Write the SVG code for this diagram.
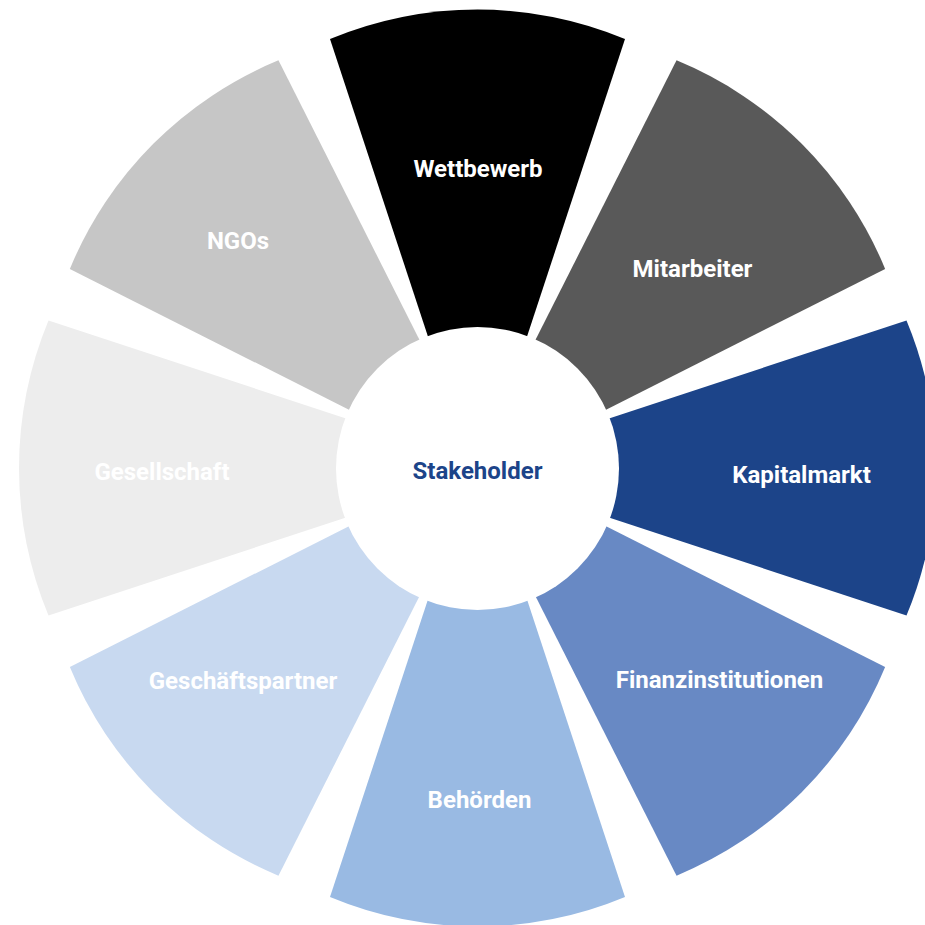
<svg xmlns="http://www.w3.org/2000/svg" xmlns:xlink="http://www.w3.org/1999/xlink" width="925" height="925" viewBox="0 0 925 925">
  <defs>
    <path id="seg" d="M -19 0 L 429 -147.5 A 383.5 383.5 0 0 1 429 147.5 Z"/>
    <style>
      .lbl { font-family: Roboto, "Liberation Sans", Arial, sans-serif; font-weight: 700; font-size: 24px; fill: #ffffff; text-anchor: middle; }
      .center { fill: #1c4489; }
    </style>
  </defs>
  <rect width="925" height="925" fill="#ffffff"/>
  <g id="segments">
    <g id="wettbewerb">
      <use xlink:href="#seg" href="#seg" transform="translate(477.5 468) rotate(-90)" fill="#000000"/>
      <text class="lbl" x="478" y="177">Wettbewerb</text>
    </g>
    <g id="mitarbeiter">
      <use xlink:href="#seg" href="#seg" transform="translate(477.5 468) rotate(-45)" fill="#595959"/>
      <text class="lbl" x="692.5" y="277">Mitarbeiter</text>
    </g>
    <g id="kapitalmarkt">
      <use xlink:href="#seg" href="#seg" transform="translate(477.5 468) rotate(0)" fill="#1c4489"/>
      <text class="lbl" x="801.5" y="483">Kapitalmarkt</text>
    </g>
    <g id="finanzinstitutionen">
      <use xlink:href="#seg" href="#seg" transform="translate(477.5 468) rotate(45)" fill="#6889c4"/>
      <text class="lbl" x="719.5" y="688">Finanzinstitutionen</text>
    </g>
    <g id="behoerden">
      <use xlink:href="#seg" href="#seg" transform="translate(477.5 468) rotate(90)" fill="#99bae3"/>
      <text class="lbl" x="479.5" y="808">Behörden</text>
    </g>
    <g id="geschaeftspartner">
      <use xlink:href="#seg" href="#seg" transform="translate(477.5 468) rotate(135)" fill="#c8d9f0"/>
      <text class="lbl" x="243" y="689">Geschäftspartner</text>
    </g>
    <g id="gesellschaft">
      <use xlink:href="#seg" href="#seg" transform="translate(477.5 468) rotate(180)" fill="#ededed"/>
      <text class="lbl" x="162" y="480">Gesellschaft</text>
    </g>
    <g id="ngos">
      <use xlink:href="#seg" href="#seg" transform="translate(477.5 468) rotate(225)" fill="#c6c6c6"/>
      <text class="lbl" x="238" y="249">NGOs</text>
    </g>
  </g>
  <g id="stakeholder">
    <circle cx="477.5" cy="468.5" r="141.5" fill="#ffffff"/>
    <text class="lbl center" x="477.5" y="479">Stakeholder</text>
  </g>
  <g id="connectors"/>
</svg>
